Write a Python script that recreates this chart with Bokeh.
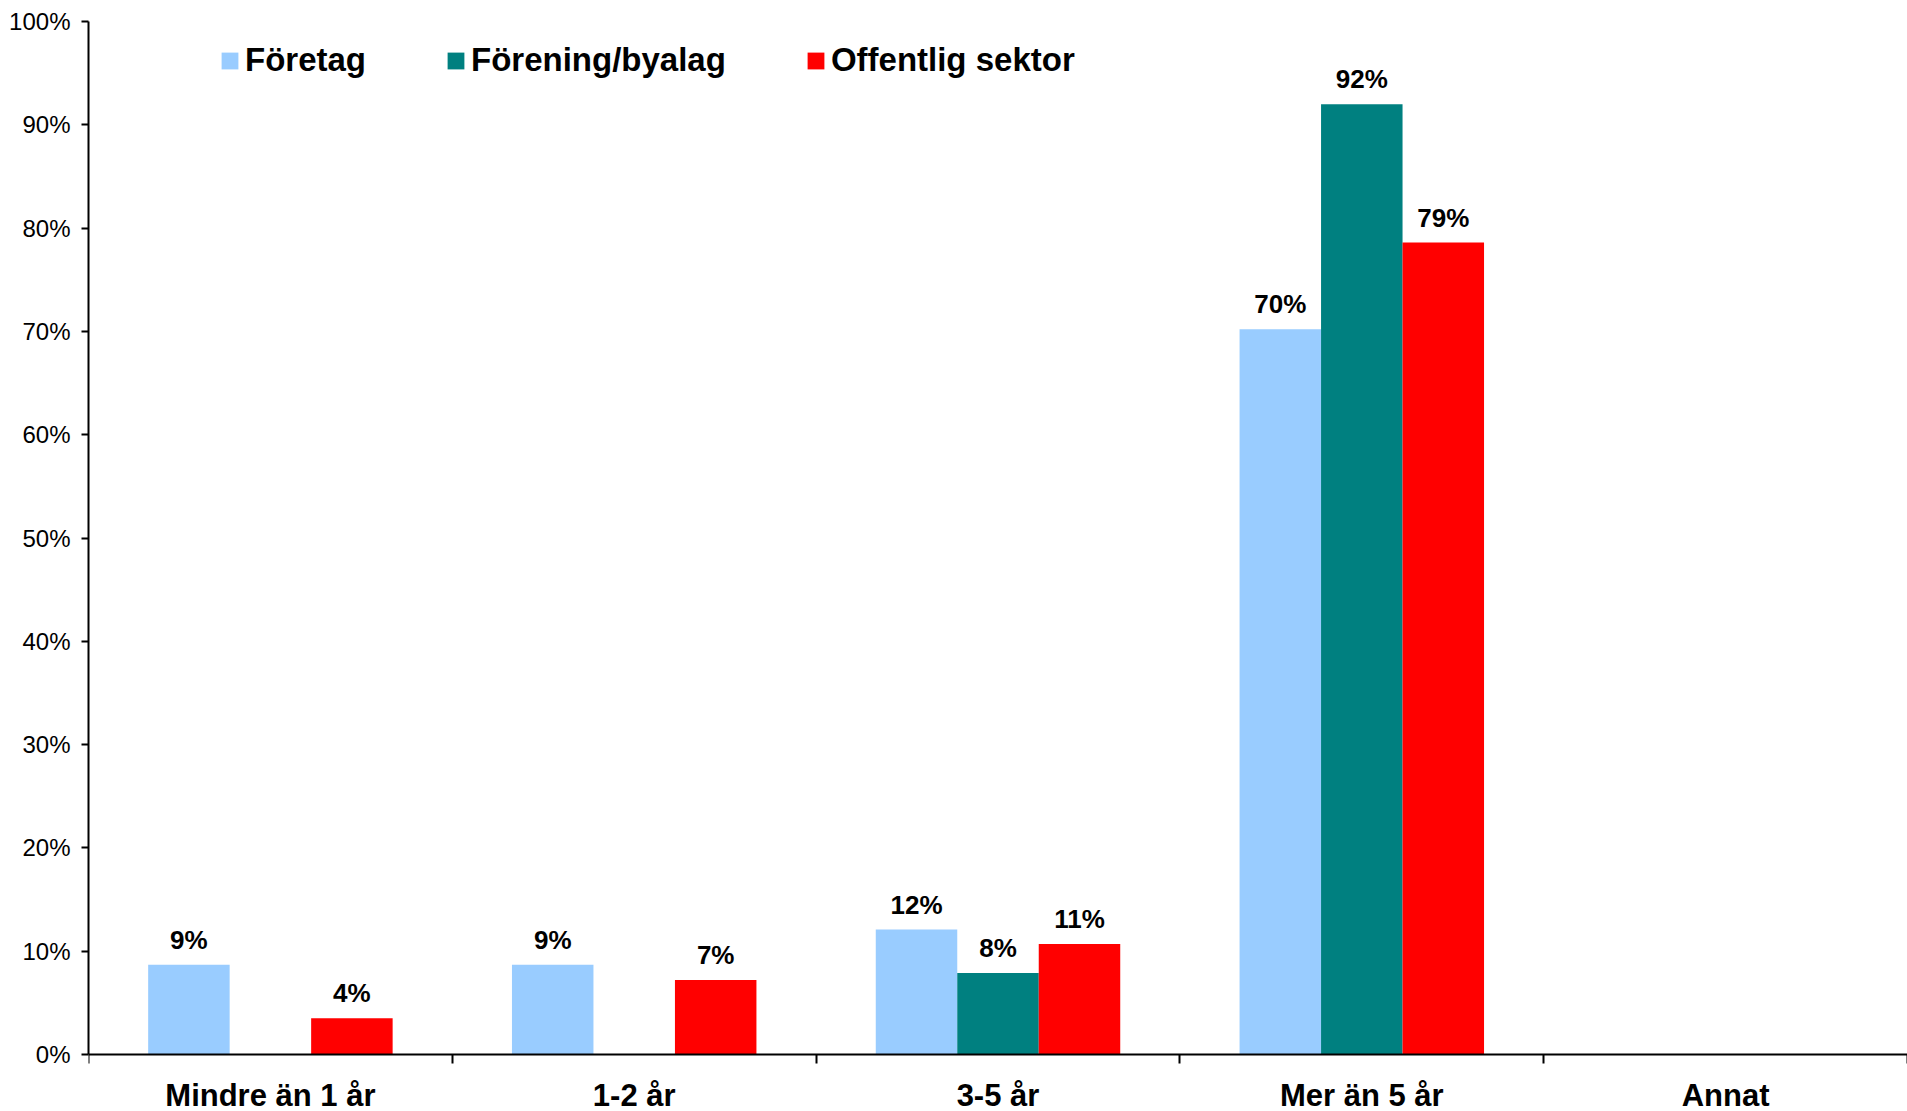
from bokeh.plotting import figure
from bokeh.models import Range1d, FixedTicker, NumeralTickFormatter, ColumnDataSource, Legend, LegendItem
from bokeh.core.properties import value
from bokeh.embed import file_html
from bokeh.resources import INLINE

categories = ["Mindre än 1 år", "1-2 år", "3-5 år", "Mer än 5 år", "Annat"]
series_names = ["Företag", "Förening/byalag", "Offentlig sektor"]
foretag = [0.087, 0.087, 0.121, 0.702, None]
forening = [None, None, 0.079, 0.920, None]
offentlig = [0.035, 0.072, 0.107, 0.786, None]
y_ticks = [0.0, 0.1, 0.2, 0.3, 0.4, 0.5, 0.6, 0.7, 0.8, 0.9, 1.0]

colors = ["#99CCFF", "#008080", "#FF0000"]
FONT = "Liberation Sans"
BAR_W = 0.224
offsets = [-BAR_W, 0.0, BAR_W]

W, H = 1907, 1111
TOP, LEFT = 21, 88
AXIS_Y = 1054  # pixel row of 0%
frame_h = H - TOP
span_px = AXIS_Y - TOP
y_start = -(frame_h - span_px) / span_px

n = len(categories)
p = figure(width=W, height=H, output_backend="svg", toolbar_location=None,
           x_range=Range1d(0, n), y_range=Range1d(y_start, 1.0),
           min_border_left=LEFT, min_border_right=0, min_border_top=TOP, min_border_bottom=0)
p.outline_line_color = None
p.xgrid.visible = False
p.ygrid.visible = False
p.background_fill_color = "white"
p.border_fill_color = "white"

renderers = []
for name, vals, col, off in zip(series_names, [foretag, forening, offentlig], colors, offsets):
    xs, tops, labels = [], [], []
    for j, v in enumerate(vals):
        if v is None:
            continue
        xs.append(j + 0.5 + off)
        tops.append(v)
        labels.append(f"{round(v * 100)}%")
    src = ColumnDataSource(dict(x=xs, top=tops, label=labels))
    r = p.vbar(x="x", top="top", bottom=0, width=BAR_W, source=src,
               fill_color=col, line_color=None)
    renderers.append(r)
    p.text(x="x", y="top", text="label", source=src, text_align="center",
           text_baseline="alphabetic", y_offset=-25, text_font=value(FONT),
           text_font_style="bold", text_font_size="26px", text_color="black")

# x axis (pinned at 0%)
xa = p.xaxis[0]
xa.fixed_location = 0
xa.ticker = FixedTicker(ticks=[j + 0.5 for j in range(n)], minor_ticks=list(range(n + 1)))
xa.major_label_overrides = {j + 0.5: c for j, c in enumerate(categories)}
xa.major_tick_out = 0
xa.major_tick_in = 0
xa.minor_tick_out = 9
xa.minor_tick_in = 0
xa.minor_tick_line_color = "black"
xa.minor_tick_line_width = 2
xa.axis_line_color = "black"
xa.axis_line_width = 2
xa.major_label_standoff = 14
xa.major_label_text_font = FONT
xa.major_label_text_font_style = "bold"
xa.major_label_text_font_size = "31px"
xa.major_label_text_color = "black"

# y axis
ya = p.yaxis[0]
ya.bounds = (0, 1.0)
ya.ticker = FixedTicker(ticks=y_ticks)
ya.formatter = NumeralTickFormatter(format="0%")
ya.major_tick_out = 7
ya.major_tick_in = 0
ya.major_tick_line_color = "black"
ya.major_tick_line_width = 2
ya.minor_tick_line_color = None
ya.axis_line_color = "black"
ya.axis_line_width = 2
ya.major_label_standoff = 11
ya.major_label_text_font = FONT
ya.major_label_text_font_style = "normal"
ya.major_label_text_font_size = "24px"
ya.major_label_text_color = "black"

legend = Legend(items=[LegendItem(label=nm, renderers=[r]) for nm, r in zip(series_names, renderers)],
                orientation="horizontal", location=(131, frame_h - 58))
legend.glyph_width = 21
legend.glyph_height = 21
legend.label_standoff = 5
legend.spacing = 79
legend.padding = 0
legend.margin = 0
legend.label_height = 36
legend.border_line_color = None
legend.background_fill_alpha = 0
legend.label_text_font = FONT
legend.label_text_font_style = "bold"
legend.label_text_font_size = "33px"
legend.label_text_color = "black"
p.add_layout(legend)

open("out.html", "w").write(file_html(p, INLINE))
